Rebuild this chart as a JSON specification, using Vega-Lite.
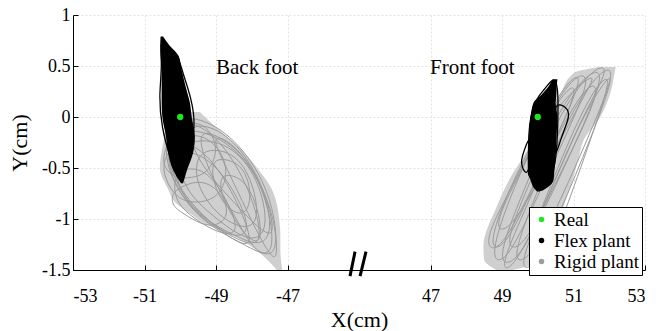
{
  "$schema": "https://vega.github.io/schema/vega-lite/v6.json",
  "width": 572,
  "height": 255,
  "autosize": {"type": "none"},
  "padding": {"left": 73, "top": 15, "right": 23, "bottom": 61},
  "background": "white",
  "config": {
    "view": {"stroke": null},
    "font": "Liberation Serif",
    "axis": {
      "domainColor": "black",
      "domainWidth": 1,
      "tickColor": "black",
      "tickSize": -5,
      "labelFont": "Liberation Serif",
      "labelFontSize": 18,
      "labelColor": "black",
      "titleFont": "Liberation Serif",
      "titleFontSize": 22,
      "titleFontWeight": "normal",
      "titleColor": "black",
      "grid": true,
      "gridColor": "#e2e2e2",
      "gridDash": [2, 2]
    },
    "legend": {
      "labelFont": "Liberation Serif",
      "labelFontSize": 19,
      "labelColor": "black"
    }
  },
  "datasets": {
    "grayfill": [
      {"part": "back", "y": 0.05, "x": -50.1, "xr": -49.45},
      {"part": "back", "y": -0.1, "x": -50.35, "xr": -49.0},
      {"part": "back", "y": -0.3, "x": -50.5, "xr": -48.35},
      {"part": "back", "y": -0.5, "x": -50.57, "xr": -47.85},
      {"part": "back", "y": -0.7, "x": -50.35, "xr": -47.45},
      {"part": "back", "y": -0.85, "x": -50.1, "xr": -47.3},
      {"part": "back", "y": -0.95, "x": -49.7, "xr": -47.25},
      {"part": "back", "y": -1.05, "x": -49.3, "xr": -47.22},
      {"part": "back", "y": -1.15, "x": -48.6, "xr": -47.2},
      {"part": "back", "y": -1.3, "x": -47.9, "xr": -47.2},
      {"part": "back", "y": -1.5, "x": -47.3, "xr": -47.15},
      {"part": "front", "y": 0.49, "x": 51.7, "xr": 52.18},
      {"part": "front", "y": 0.43, "x": 51.0, "xr": 52.15},
      {"part": "front", "y": 0.2, "x": 50.6, "xr": 52.0},
      {"part": "front", "y": 0.0, "x": 50.27, "xr": 51.75},
      {"part": "front", "y": -0.23, "x": 49.85, "xr": 51.28},
      {"part": "front", "y": -0.39, "x": 49.6, "xr": 51.15},
      {"part": "front", "y": -0.59, "x": 49.24, "xr": 51.0},
      {"part": "front", "y": -0.88, "x": 48.85, "xr": 50.72},
      {"part": "front", "y": -1.27, "x": 48.48, "xr": 50.4},
      {"part": "front", "y": -1.4, "x": 48.5, "xr": 50.2},
      {"part": "front", "y": -1.5, "x": 48.85, "xr": 49.3}
    ],
    "graylines": [
      {"loop": "L1", "x": -50.35, "y": 0.0}, {"loop": "L1", "x": -49.3, "y": 0.0}, {"loop": "L1", "x": -48.2, "y": -0.3}, {"loop": "L1", "x": -47.4, "y": -0.8}, {"loop": "L1", "x": -47.2, "y": -1.45}, {"loop": "L1", "x": -48.2, "y": -1.25}, {"loop": "L1", "x": -49.5, "y": -1.02}, {"loop": "L1", "x": -50.5, "y": -0.5},
      {"loop": "L2", "x": -50.2, "y": -0.1}, {"loop": "L2", "x": -49.0, "y": -0.15}, {"loop": "L2", "x": -47.9, "y": -0.5}, {"loop": "L2", "x": -47.4, "y": -1.0}, {"loop": "L2", "x": -47.6, "y": -1.3}, {"loop": "L2", "x": -48.6, "y": -1.15}, {"loop": "L2", "x": -49.8, "y": -0.9}, {"loop": "L2", "x": -50.45, "y": -0.45},
      {"loop": "L3", "x": -49.8, "y": -0.2}, {"loop": "L3", "x": -48.6, "y": -0.25}, {"loop": "L3", "x": -47.8, "y": -0.6}, {"loop": "L3", "x": -47.5, "y": -1.1}, {"loop": "L3", "x": -48.0, "y": -1.25}, {"loop": "L3", "x": -49.0, "y": -1.0}, {"loop": "L3", "x": -49.8, "y": -0.75}, {"loop": "L3", "x": -50.1, "y": -0.45},
      {"loop": "L4", "x": -49.3, "y": -0.3}, {"loop": "L4", "x": -48.4, "y": -0.35}, {"loop": "L4", "x": -47.9, "y": -0.7}, {"loop": "L4", "x": -47.8, "y": -1.05}, {"loop": "L4", "x": -48.3, "y": -1.1}, {"loop": "L4", "x": -49.0, "y": -0.95}, {"loop": "L4", "x": -49.5, "y": -0.7}, {"loop": "L4", "x": -49.6, "y": -0.45},
      {"loop": "L5", "x": -48.9, "y": -0.4}, {"loop": "L5", "x": -48.3, "y": -0.45}, {"loop": "L5", "x": -48.0, "y": -0.7}, {"loop": "L5", "x": -48.1, "y": -0.95}, {"loop": "L5", "x": -48.5, "y": -0.95}, {"loop": "L5", "x": -48.9, "y": -0.8}, {"loop": "L5", "x": -49.1, "y": -0.6}, {"loop": "L5", "x": -49.1, "y": -0.45},
      {"loop": "L6", "x": -50.3, "y": -0.05}, {"loop": "L6", "x": -49.5, "y": -0.05}, {"loop": "L6", "x": -48.7, "y": -0.3}, {"loop": "L6", "x": -48.0, "y": -0.75}, {"loop": "L6", "x": -47.6, "y": -1.3}, {"loop": "L6", "x": -48.5, "y": -1.2}, {"loop": "L6", "x": -49.5, "y": -0.95}, {"loop": "L6", "x": -50.3, "y": -0.6},
      {"loop": "L7", "x": -50.0, "y": -0.3}, {"loop": "L7", "x": -49.2, "y": -0.4}, {"loop": "L7", "x": -48.5, "y": -0.7}, {"loop": "L7", "x": -48.0, "y": -1.1}, {"loop": "L7", "x": -48.4, "y": -1.2}, {"loop": "L7", "x": -49.2, "y": -1.05}, {"loop": "L7", "x": -49.8, "y": -0.85}, {"loop": "L7", "x": -50.2, "y": -0.55},
      {"loop": "L8", "x": -50.5, "y": -0.4}, {"loop": "L8", "x": -49.9, "y": -0.15}, {"loop": "L8", "x": -49.1, "y": -0.2}, {"loop": "L8", "x": -48.6, "y": -0.5}, {"loop": "L8", "x": -48.9, "y": -0.8}, {"loop": "L8", "x": -49.6, "y": -0.85}, {"loop": "L8", "x": -50.1, "y": -0.8}, {"loop": "L8", "x": -50.45, "y": -0.6},
      {"loop": "L9", "x": -50.1, "y": -0.7}, {"loop": "L9", "x": -49.4, "y": -0.6}, {"loop": "L9", "x": -48.8, "y": -0.75}, {"loop": "L9", "x": -48.6, "y": -1.0}, {"loop": "L9", "x": -49.2, "y": -1.1}, {"loop": "L9", "x": -49.9, "y": -0.95}, {"loop": "L9", "x": -50.2, "y": -0.88}, {"loop": "L9", "x": -50.25, "y": -0.78},
      {"loop": "L10", "x": -49.6, "y": -0.1}, {"loop": "L10", "x": -48.8, "y": -0.2}, {"loop": "L10", "x": -48.0, "y": -0.45}, {"loop": "L10", "x": -47.5, "y": -0.9}, {"loop": "L10", "x": -47.35, "y": -1.35}, {"loop": "L10", "x": -47.9, "y": -1.35}, {"loop": "L10", "x": -48.5, "y": -0.95}, {"loop": "L10", "x": -49.2, "y": -0.55},
      {"loop": "L11", "x": -50.4, "y": -0.2}, {"loop": "L11", "x": -49.7, "y": -0.25}, {"loop": "L11", "x": -49.0, "y": -0.45}, {"loop": "L11", "x": -48.3, "y": -0.9}, {"loop": "L11", "x": -47.9, "y": -1.3}, {"loop": "L11", "x": -48.6, "y": -1.2}, {"loop": "L11", "x": -49.6, "y": -0.9}, {"loop": "L11", "x": -50.3, "y": -0.55},
      {"loop": "L12", "x": -49.9, "y": -0.05}, {"loop": "L12", "x": -48.9, "y": -0.1}, {"loop": "L12", "x": -48.1, "y": -0.4}, {"loop": "L12", "x": -47.6, "y": -0.75}, {"loop": "L12", "x": -47.3, "y": -1.2}, {"loop": "L12", "x": -47.8, "y": -1.1}, {"loop": "L12", "x": -48.6, "y": -0.8}, {"loop": "L12", "x": -49.5, "y": -0.45},
      {"loop": "L13", "x": -50.0, "y": -0.5}, {"loop": "L13", "x": -49.3, "y": -0.5}, {"loop": "L13", "x": -48.7, "y": -0.8}, {"loop": "L13", "x": -48.3, "y": -1.15}, {"loop": "L13", "x": -48.9, "y": -1.15}, {"loop": "L13", "x": -49.6, "y": -1.0}, {"loop": "L13", "x": -50.1, "y": -0.85}, {"loop": "L13", "x": -50.2, "y": -0.65},
      {"loop": "L14", "x": -48.8, "y": -0.55}, {"loop": "L14", "x": -48.2, "y": -0.6}, {"loop": "L14", "x": -47.8, "y": -0.9}, {"loop": "L14", "x": -47.7, "y": -1.25}, {"loop": "L14", "x": -48.1, "y": -1.2}, {"loop": "L14", "x": -48.5, "y": -1.0}, {"loop": "L14", "x": -48.8, "y": -0.8}, {"loop": "L14", "x": -48.9, "y": -0.65},
      {"loop": "L15", "x": -50.45, "y": -0.3}, {"loop": "L15", "x": -50.0, "y": -0.05}, {"loop": "L15", "x": -49.3, "y": -0.05}, {"loop": "L15", "x": -48.9, "y": -0.3}, {"loop": "L15", "x": -49.2, "y": -0.55}, {"loop": "L15", "x": -49.7, "y": -0.6}, {"loop": "L15", "x": -50.1, "y": -0.6}, {"loop": "L15", "x": -50.5, "y": -0.5},
      {"loop": "L16", "x": -49.2, "y": -0.15}, {"loop": "L16", "x": -48.5, "y": -0.25}, {"loop": "L16", "x": -47.8, "y": -0.6}, {"loop": "L16", "x": -47.35, "y": -1.0}, {"loop": "L16", "x": -47.25, "y": -1.45}, {"loop": "L16", "x": -47.6, "y": -1.3}, {"loop": "L16", "x": -48.1, "y": -0.95}, {"loop": "L16", "x": -48.7, "y": -0.5},
      {"loop": "F1", "x": 48.6, "y": -1.4}, {"loop": "F1", "x": 49.3, "y": -0.7}, {"loop": "F1", "x": 50.3, "y": 0.05}, {"loop": "F1", "x": 51.1, "y": 0.44}, {"loop": "F1", "x": 51.5, "y": 0.4}, {"loop": "F1", "x": 50.9, "y": -0.1}, {"loop": "F1", "x": 49.9, "y": -0.85}, {"loop": "F1", "x": 49.1, "y": -1.45},
      {"loop": "F2", "x": 48.8, "y": -1.45}, {"loop": "F2", "x": 49.5, "y": -0.8}, {"loop": "F2", "x": 50.6, "y": 0.1}, {"loop": "F2", "x": 51.5, "y": 0.47}, {"loop": "F2", "x": 51.9, "y": 0.44}, {"loop": "F2", "x": 51.2, "y": -0.15}, {"loop": "F2", "x": 50.2, "y": -0.9}, {"loop": "F2", "x": 49.4, "y": -1.45},
      {"loop": "F3", "x": 49.2, "y": -1.45}, {"loop": "F3", "x": 49.9, "y": -0.8}, {"loop": "F3", "x": 50.9, "y": 0.05}, {"loop": "F3", "x": 51.8, "y": 0.48}, {"loop": "F3", "x": 52.2, "y": 0.48}, {"loop": "F3", "x": 51.6, "y": -0.05}, {"loop": "F3", "x": 50.6, "y": -0.85}, {"loop": "F3", "x": 49.8, "y": -1.4},
      {"loop": "F4", "x": 48.45, "y": -1.25}, {"loop": "F4", "x": 49.1, "y": -0.8}, {"loop": "F4", "x": 49.9, "y": -0.25}, {"loop": "F4", "x": 50.7, "y": 0.25}, {"loop": "F4", "x": 51.2, "y": 0.35}, {"loop": "F4", "x": 50.6, "y": -0.15}, {"loop": "F4", "x": 49.7, "y": -0.8}, {"loop": "F4", "x": 48.9, "y": -1.35},
      {"loop": "F5", "x": 49.6, "y": -1.35}, {"loop": "F5", "x": 50.1, "y": -0.9}, {"loop": "F5", "x": 50.9, "y": -0.2}, {"loop": "F5", "x": 51.6, "y": 0.3}, {"loop": "F5", "x": 52.1, "y": 0.45}, {"loop": "F5", "x": 51.7, "y": 0.0}, {"loop": "F5", "x": 50.9, "y": -0.8}, {"loop": "F5", "x": 50.3, "y": -1.35},
      {"loop": "F6", "x": 48.9, "y": -1.5}, {"loop": "F6", "x": 49.6, "y": -0.95}, {"loop": "F6", "x": 50.5, "y": -0.2}, {"loop": "F6", "x": 51.4, "y": 0.35}, {"loop": "F6", "x": 51.8, "y": 0.3}, {"loop": "F6", "x": 51.0, "y": -0.3}, {"loop": "F6", "x": 50.0, "y": -1.0}, {"loop": "F6", "x": 49.3, "y": -1.5},
      {"loop": "F7", "x": 48.55, "y": -1.3}, {"loop": "F7", "x": 49.2, "y": -0.7}, {"loop": "F7", "x": 50.0, "y": -0.15}, {"loop": "F7", "x": 50.8, "y": 0.35}, {"loop": "F7", "x": 51.3, "y": 0.45}, {"loop": "F7", "x": 50.8, "y": 0.0}, {"loop": "F7", "x": 49.9, "y": -0.65}, {"loop": "F7", "x": 49.1, "y": -1.3},
      {"loop": "F8", "x": 49.4, "y": -1.5}, {"loop": "F8", "x": 50.2, "y": -0.85}, {"loop": "F8", "x": 51.1, "y": -0.1}, {"loop": "F8", "x": 51.9, "y": 0.38}, {"loop": "F8", "x": 52.15, "y": 0.42}, {"loop": "F8", "x": 51.5, "y": -0.2}, {"loop": "F8", "x": 50.6, "y": -0.95}, {"loop": "F8", "x": 49.9, "y": -1.5},
      {"loop": "F9", "x": 48.7, "y": -1.1}, {"loop": "F9", "x": 49.5, "y": -0.55}, {"loop": "F9", "x": 50.3, "y": 0.0}, {"loop": "F9", "x": 51.1, "y": 0.3}, {"loop": "F9", "x": 51.7, "y": 0.45}, {"loop": "F9", "x": 51.2, "y": 0.15}, {"loop": "F9", "x": 50.3, "y": -0.45}, {"loop": "F9", "x": 49.2, "y": -1.15},
      {"loop": "F10", "x": 49.0, "y": -1.3}, {"loop": "F10", "x": 49.7, "y": -0.7}, {"loop": "F10", "x": 50.7, "y": 0.1}, {"loop": "F10", "x": 51.6, "y": 0.5}, {"loop": "F10", "x": 52.05, "y": 0.5}, {"loop": "F10", "x": 51.3, "y": 0.05}, {"loop": "F10", "x": 50.4, "y": -0.7}, {"loop": "F10", "x": 49.6, "y": -1.3}
    ],
    "blackfill": [
      {"part": "back", "y": 0.79, "x": -50.55, "xr": -50.48},
      {"part": "back", "y": 0.7, "x": -50.56, "xr": -50.3},
      {"part": "back", "y": 0.6, "x": -50.55, "xr": -50.05},
      {"part": "back", "y": 0.46, "x": -50.52, "xr": -49.96},
      {"part": "back", "y": 0.3, "x": -50.52, "xr": -49.85},
      {"part": "back", "y": 0.14, "x": -50.52, "xr": -49.73},
      {"part": "back", "y": 0.0, "x": -50.5, "xr": -49.68},
      {"part": "back", "y": -0.19, "x": -50.4, "xr": -49.59},
      {"part": "back", "y": -0.35, "x": -50.34, "xr": -49.64},
      {"part": "back", "y": -0.52, "x": -50.2, "xr": -49.81},
      {"part": "back", "y": -0.65, "x": -49.98, "xr": -49.92},
      {"part": "front", "y": 0.37, "x": 50.42, "xr": 50.55},
      {"part": "front", "y": 0.3, "x": 50.3, "xr": 50.53},
      {"part": "front", "y": 0.2, "x": 50.05, "xr": 50.52},
      {"part": "front", "y": 0.14, "x": 49.88, "xr": 50.5},
      {"part": "front", "y": 0.0, "x": 49.8, "xr": 50.55},
      {"part": "front", "y": -0.23, "x": 49.75, "xr": 50.52},
      {"part": "front", "y": -0.39, "x": 49.72, "xr": 50.5},
      {"part": "front", "y": -0.55, "x": 49.72, "xr": 50.46},
      {"part": "front", "y": -0.62, "x": 49.8, "xr": 50.44},
      {"part": "front", "y": -0.69, "x": 49.88, "xr": 50.27},
      {"part": "front", "y": -0.73, "x": 49.98, "xr": 50.05}
    ],
    "blacklines": [
      {"loop": "B1", "x": -50.58, "y": 0.8}, {"loop": "B1", "x": -50.5, "y": 0.5}, {"loop": "B1", "x": -50.6, "y": 0.2}, {"loop": "B1", "x": -50.52, "y": -0.1}, {"loop": "B1", "x": -50.3, "y": -0.4}, {"loop": "B1", "x": -49.95, "y": -0.64}, {"loop": "B1", "x": -49.8, "y": -0.4}, {"loop": "B1", "x": -49.55, "y": -0.1}, {"loop": "B1", "x": -49.7, "y": 0.2}, {"loop": "B1", "x": -49.95, "y": 0.45}, {"loop": "B1", "x": -50.05, "y": 0.6}, {"loop": "B1", "x": -50.3, "y": 0.65},
      {"loop": "B2", "x": -50.35, "y": 0.6}, {"loop": "B2", "x": -50.1, "y": 0.65}, {"loop": "B2", "x": -49.98, "y": 0.5}, {"loop": "B2", "x": -50.1, "y": 0.35}, {"loop": "B2", "x": -50.3, "y": 0.45},
      {"loop": "B3", "x": 50.45, "y": 0.15}, {"loop": "B3", "x": 50.8, "y": 0.1}, {"loop": "B3", "x": 50.92, "y": 0.02}, {"loop": "B3", "x": 50.65, "y": -0.2}, {"loop": "B3", "x": 50.45, "y": -0.45}, {"loop": "B3", "x": 50.5, "y": -0.1},
      {"loop": "B4", "x": 49.8, "y": -0.15}, {"loop": "B4", "x": 49.6, "y": -0.35}, {"loop": "B4", "x": 49.5, "y": -0.45}, {"loop": "B4", "x": 49.7, "y": -0.6}, {"loop": "B4", "x": 49.82, "y": -0.4},
      {"loop": "B5", "x": 50.45, "y": 0.4}, {"loop": "B5", "x": 50.57, "y": 0.3}, {"loop": "B5", "x": 50.57, "y": 0.0}, {"loop": "B5", "x": 50.52, "y": -0.5}, {"loop": "B5", "x": 50.2, "y": -0.75}, {"loop": "B5", "x": 49.82, "y": -0.7}, {"loop": "B5", "x": 49.7, "y": -0.3}, {"loop": "B5", "x": 49.83, "y": 0.14}, {"loop": "B5", "x": 50.2, "y": 0.27}
    ],
    "real": [
      {"series": "Real", "x": -50.0, "y": 0.0},
      {"series": "Real", "x": 50.0, "y": 0.0}
    ],
    "labels": [
      {"text": "Back foot", "x": -47.85, "y": 0.48},
      {"text": "Front foot", "x": 48.17, "y": 0.48}
    ],
    "breaks": [
      {"x": -5.9, "y": -1.56, "xe": -2.6, "ye": -1.32},
      {"x": 0.7, "y": -1.56, "xe": 4.6, "ye": -1.32}
    ]
  },
  "encoding": {
    "x": {
      "field": "x",
      "type": "quantitative",
      "title": "X(cm)",
      "scale": {"domain": [-53, -47, 47, 53], "range": [0, 214.5, 357.5, 572], "nice": false, "zero": false},
      "axis": {"values": [-53, -51, -49, -47, 47, 49, 51, 53], "labelExpr": "toString(datum.value)", "labelPadding": 22, "titlePadding": 4}
    },
    "y": {
      "field": "y",
      "type": "quantitative",
      "title": "Y(cm)",
      "scale": {"domain": [-1.5, 1], "nice": false, "zero": false},
      "axis": {"values": [-1.5, -1, -0.5, 0, 0.5, 1], "labelExpr": "toString(datum.value)", "labelPadding": 8, "titlePadding": 10}
    }
  },
  "layer": [
    {
      "data": {"name": "grayfill"},
      "mark": {"type": "area", "orient": "horizontal", "color": "#cfcfcf", "interpolate": "monotone"},
      "encoding": {"x2": {"field": "xr"}, "detail": {"field": "part"}}
    },
    {
      "data": {"name": "graylines"},
      "mark": {"type": "line", "color": "#9a9a9a", "strokeWidth": 1, "interpolate": "basis-closed"},
      "encoding": {"detail": {"field": "loop"}, "order": {"value": null}}
    },
    {
      "data": {"name": "blackfill"},
      "mark": {"type": "area", "orient": "horizontal", "color": "black", "interpolate": "monotone"},
      "encoding": {"x2": {"field": "xr"}, "detail": {"field": "part"}}
    },
    {
      "data": {"name": "blacklines"},
      "mark": {"type": "line", "color": "black", "strokeWidth": 1.3, "interpolate": "basis-closed"},
      "encoding": {"detail": {"field": "loop"}, "order": {"value": null}}
    },
    {
      "data": {"name": "real"},
      "mark": {"type": "point", "filled": true, "size": 40, "opacity": 1, "shape": "circle"},
      "encoding": {
        "color": {
          "field": "series",
          "type": "nominal",
          "scale": {"domain": ["Real", "Flex plant", "Rigid plant"], "range": ["#1de81d", "#000000", "#9c9c9c"]},
          "legend": {
            "title": null,
            "orient": "none",
            "legendX": 456,
            "legendY": 192,
            "strokeColor": "black",
            "fillColor": "white",
            "padding": 3,
            "rowPadding": 1,
            "symbolType": "circle",
            "symbolSize": 30,
            "symbolStrokeWidth": 0,
            "labelOffset": 3,
            "encode": {"symbols": {"update": {"size": {"signal": "datum.value === 'Real' ? 32 : 11"}}}}
          }
        }
      }
    },
    {
      "data": {"name": "labels"},
      "mark": {"type": "text", "font": "Liberation Serif", "fontSize": 21, "color": "black", "align": "center", "baseline": "middle"},
      "encoding": {"text": {"field": "text"}}
    },
    {
      "data": {"name": "breaks"},
      "mark": {"type": "rule", "color": "black", "strokeWidth": 3},
      "encoding": {"x2": {"field": "xe"}, "y2": {"field": "ye"}}
    }
  ]
}
